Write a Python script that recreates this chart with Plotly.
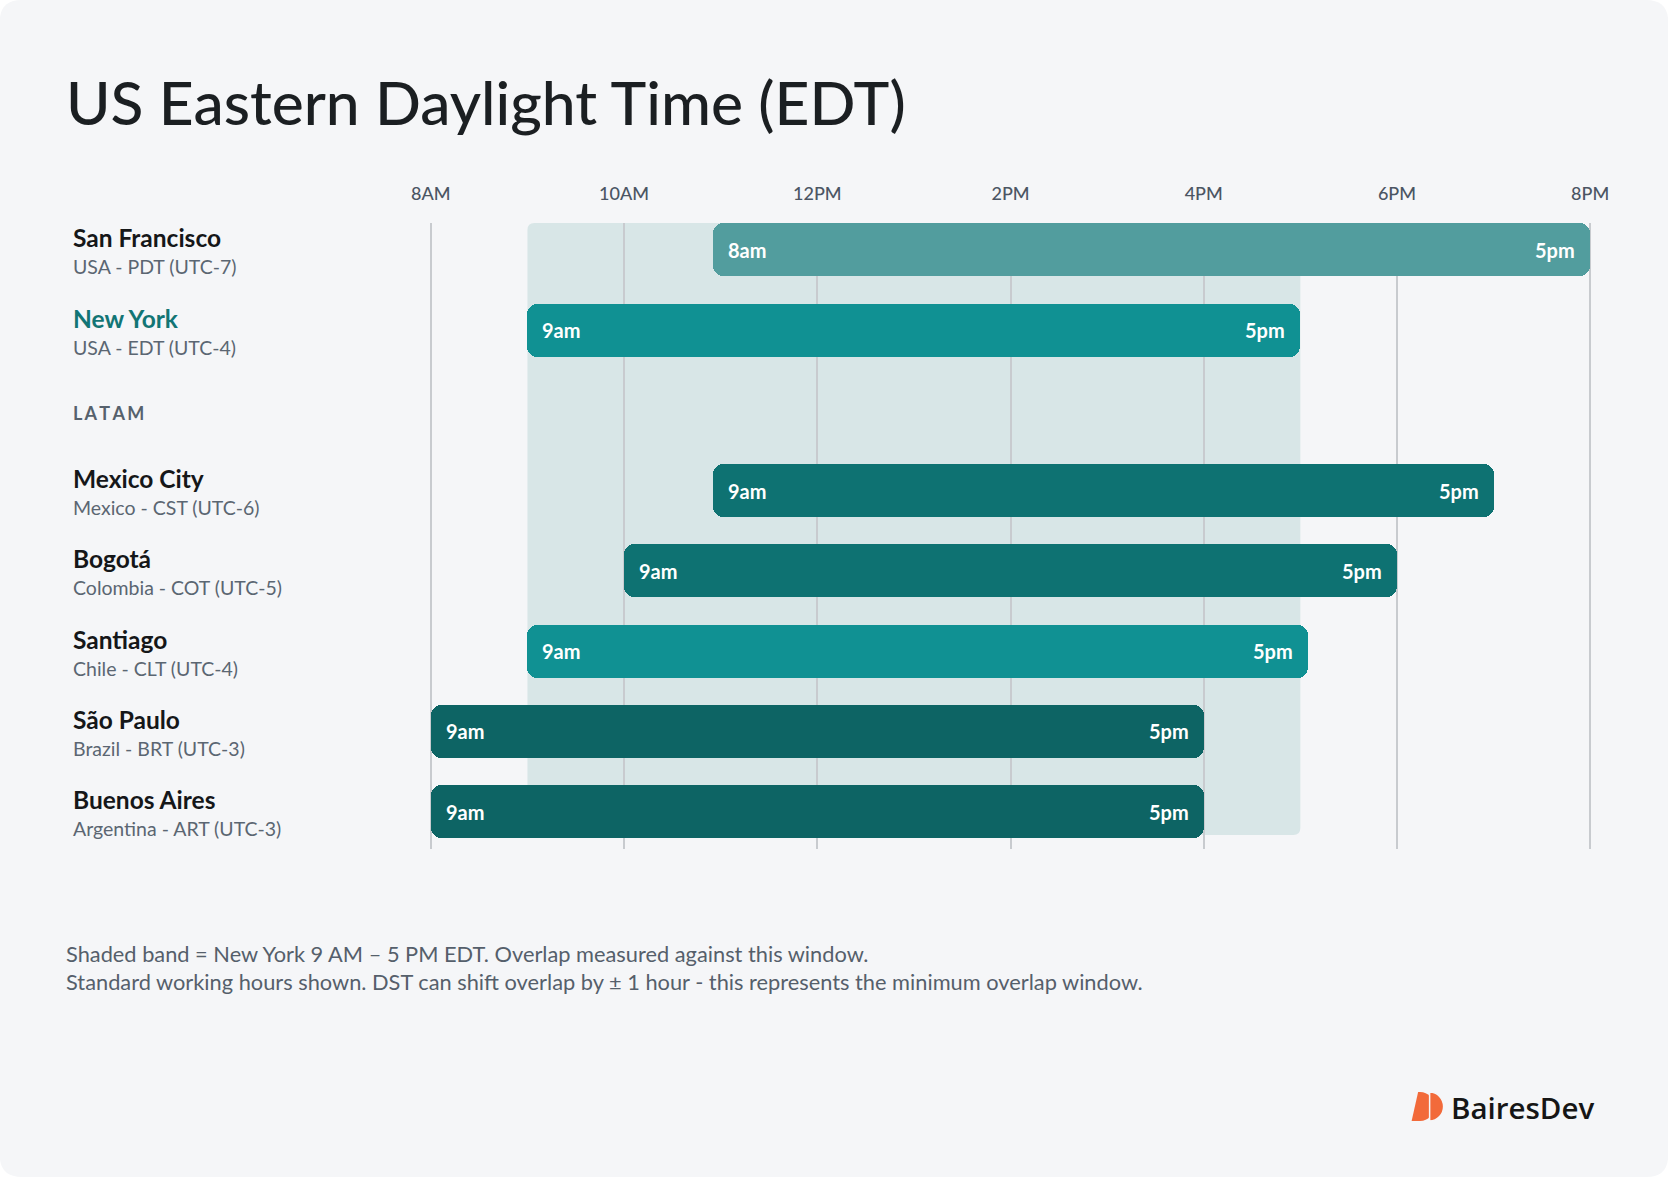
import plotly.graph_objects as go

# ---------------- data ----------------
cities = ["San Francisco", "New York", "Mexico City", "Bogotá", "Santiago", "São Paulo", "Buenos Aires"]
zones = ["USA - PDT (UTC-7)", "USA - EDT (UTC-4)", "Mexico - CST (UTC-6)", "Colombia - COT (UTC-5)",
         "Chile - CLT (UTC-4)", "Brazil - BRT (UTC-3)", "Argentina - ART (UTC-3)"]
start_edt = [10.92, 9, 10.92, 10, 9, 8, 8]
end_edt = [20, 17, 19, 18, 17.08, 16, 16]
start_local = ["8am", "9am", "9am", "9am", "9am", "9am", "9am"]
end_local = ["5pm", "5pm", "5pm", "5pm", "5pm", "5pm", "5pm"]
group_label = "LATAM"
row_order = ["San Francisco", "New York", "LATAM", "Mexico City", "Bogotá", "Santiago", "São Paulo", "Buenos Aires"]
tick_hours = [8, 10, 12, 14, 16, 18, 20]
tick_labels = ["8AM", "10AM", "12PM", "2PM", "4PM", "6PM", "8PM"]
band_city = "New York"
title_text = "US Eastern Daylight Time (EDT)"
notes = ["Shaded band = New York 9 AM – 5 PM EDT. Overlap measured against this window.",
         "Standard working hours shown. DST can shift overlap by ± 1 hour - this represents the minimum overlap window."]
brand = "BairesDev"

# ---------------- style ----------------
bar_colors = ["#529d9e", "#109193", "#0e7272", "#0e7272", "#109193", "#0d6464", "#0d6464"]
name_colors = ["#151719", "#127575", "#151719", "#151719", "#151719", "#151719", "#151719"]
BG = "#f5f6f8"
FONT = "Lato"

W, H = 1668, 1177
GX0, GX1 = 431, 1590          # pixel positions of 8AM and 8PM gridlines
T, B = 223, 849
X0, X1 = 8, 20
PAD = 0.05                    # small range padding so edge gridlines are drawn
PPH = (GX1 - GX0) / (X1 - X0)
L = GX0 - PAD * PPH
R = GX1 + PAD * PPH


def px(p):
    return (p - L) / (R - L)


def py(p):
    return (B - p) / (B - T)


def hx(h):
    return GX0 + (h - X0) * PPH


def path(cmds):
    s = ""
    for cmd, ps in cmds:
        s += cmd + " " + " ".join(f"{px(a):.5f},{py(b):.5f}" for a, b in ps) + " "
    return s + "Z"


def rounded_rect(x0, y0, x1, y1, r):
    return path([
        ("M", [(x0 + r, y0)]),
        ("L", [(x1 - r, y0)]),
        ("Q", [(x1, y0), (x1, y0 + r)]),
        ("L", [(x1, y1 - r)]),
        ("Q", [(x1, y1), (x1 - r, y1)]),
        ("L", [(x0 + r, y1)]),
        ("Q", [(x0, y1), (x0, y1 - r)]),
        ("L", [(x0, y0 + r)]),
        ("Q", [(x0, y0), (x0 + r, y0)]),
    ])


fig = go.Figure()
fig.add_trace(go.Bar(
    y=cities,
    x=[e - s for s, e in zip(start_edt, end_edt)],
    base=start_edt,
    orientation="h",
    marker=dict(color=bar_colors, cornerradius=10, line=dict(width=0)),
    width=0.66,
    hoverinfo="skip",
    showlegend=False,
))

shapes = []
# page background with rounded corners
shapes.append(dict(type="path", xref="paper", yref="paper", layer="below",
                   path=rounded_rect(0, 0, W, H, 22), fillcolor=BG, line=dict(width=0)))
# shaded band = New York window
bi = cities.index(band_city)
shapes.append(dict(type="path", xref="paper", yref="paper", layer="below",
                   path=rounded_rect(hx(start_edt[bi]), T, hx(end_edt[bi]), 835, 7),
                   fillcolor="#d8e6e7", line=dict(width=0)))
# logo icon
shapes.append(dict(type="path", xref="paper", yref="paper", layer="above",
                   path=path([("M", [(1418, 1092)]), ("L", [(1420, 1092)]),
                              ("C", [(1428, 1092), (1434, 1099), (1434, 1106.5)]),
                              ("C", [(1434, 1114), (1428, 1121), (1420, 1121)]),
                              ("L", [(1411.5, 1121)])]),
                   fillcolor="#f26a3a", line=dict(width=0)))
shapes.append(dict(type="path", xref="paper", yref="paper", layer="above",
                   path=path([("M", [(1429.5, 1092)]),
                              ("C", [(1437.5, 1092), (1443.5, 1099), (1443.5, 1106.5)]),
                              ("C", [(1443.5, 1114), (1437.5, 1121), (1429.5, 1121)])]),
                   fillcolor="#f26a3a", line=dict(width=1.5, color=BG)))

ann = []
# title
ann.append(dict(text=title_text, xref="paper", yref="paper", x=px(64), y=py(102),
                xanchor="left", yanchor="middle", showarrow=False,
                font=dict(family=FONT, size=60.5, color="#1b1f22", weight=500)))
# bar labels
for c, s, e, sl, el in zip(cities, start_edt, end_edt, start_local, end_local):
    ann.append(dict(text=sl, x=s, y=c, xref="x", yref="y", xanchor="left", yanchor="middle",
                    xshift=13, showarrow=False, font=dict(family=FONT, size=20, color="white", weight=700)))
    ann.append(dict(text=el, x=e, y=c, xref="x", yref="y", xanchor="right", yanchor="middle",
                    xshift=-13, showarrow=False, font=dict(family=FONT, size=20, color="white", weight=700)))
# left labels
for c, z, nc in zip(cities, zones, name_colors):
    ann.append(dict(text=c, x=px(71), y=c, xref="paper", yref="y", xanchor="left", yanchor="middle",
                    yshift=12, showarrow=False, font=dict(family=FONT, size=24.5, color=nc, weight=700)))
    ann.append(dict(text=z, x=px(71), y=c, xref="paper", yref="y", xanchor="left", yanchor="middle",
                    yshift=-17, showarrow=False, font=dict(family=FONT, size=19.5, color="#5b6672")))
ann.append(dict(text="\u2009".join(group_label), x=px(71), y=group_label, xref="paper", yref="y",
                xanchor="left", yanchor="middle", yshift=-3, showarrow=False,
                font=dict(family=FONT, size=18, color="#56616d", weight=700)))
# footer notes
for i, n in enumerate(notes):
    ann.append(dict(text=n, xref="paper", yref="paper", x=px(64), y=py(953 + 28 * i),
                    xanchor="left", yanchor="middle", showarrow=False,
                    font=dict(family=FONT, size=21.8, color="#555f6b")))
# logo text
ann.append(dict(text=brand, xref="paper", yref="paper", x=px(1449), y=py(1107),
                xanchor="left", yanchor="middle", showarrow=False,
                font=dict(family="Open Sans", size=29.5, color="#161616", weight=600)))

fig.update_layout(
    width=W, height=H, autosize=False,
    margin=dict(l=L, r=W - R, t=T, b=H - B, pad=0),
    paper_bgcolor="white", plot_bgcolor="rgba(0,0,0,0)",
    shapes=shapes, annotations=ann, bargap=0,
    xaxis=dict(range=[X0 - PAD, X1 + PAD], side="top", tickvals=tick_hours, ticktext=tick_labels,
               showgrid=True, gridcolor="#c8cbcf", gridwidth=1.5, zeroline=False, showline=False,
               ticks="", ticklabelstandoff=18,
               tickfont=dict(family=FONT, size=18, color="#4b5563", weight=500), fixedrange=True),
    yaxis=dict(type="category", categoryorder="array", categoryarray=row_order,
               range=[7.464, -0.335], showticklabels=False, showgrid=False, zeroline=False,
               showline=False, fixedrange=True),
)

fig.write_html("out.html")
